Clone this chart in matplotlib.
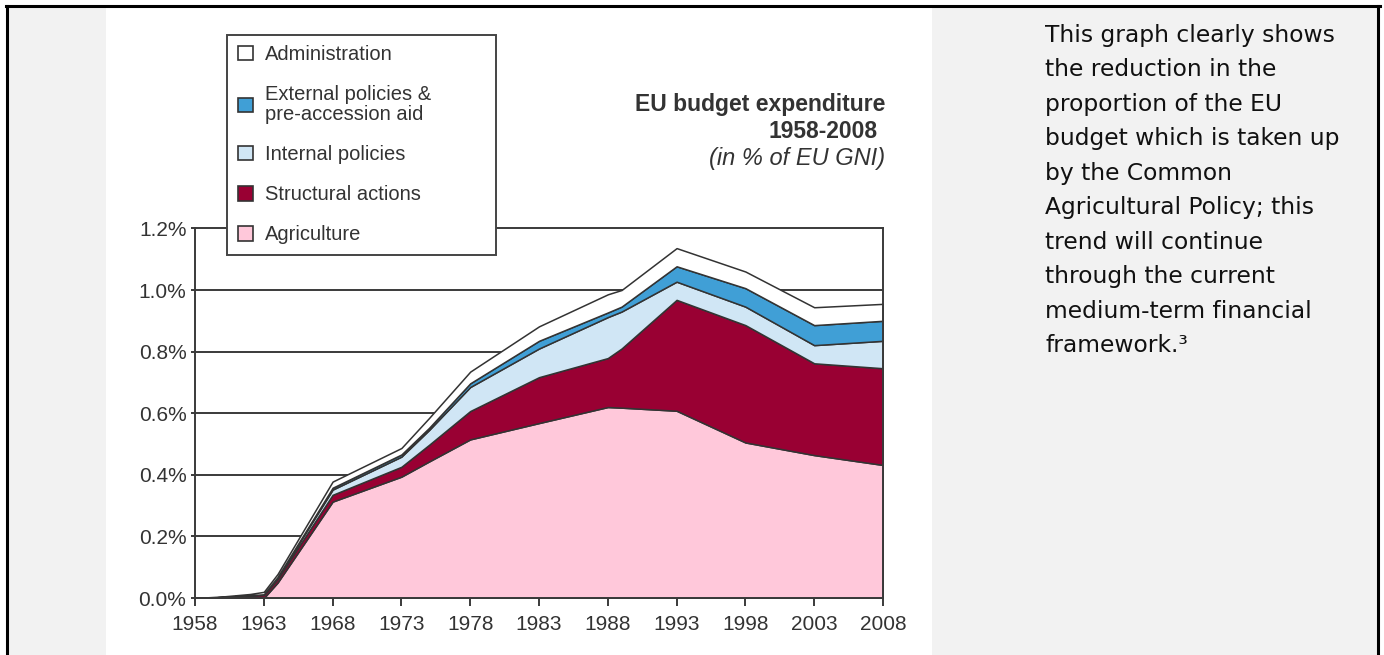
import matplotlib
matplotlib.use('Agg')
import matplotlib.pyplot as plt
from matplotlib.patches import Rectangle, Patch
from matplotlib.lines import Line2D

# DATA (in % of EU GNI, thickness of each layer)
#===============================================================================
years = [1958, 1960, 1962, 1963, 1964, 1968, 1973, 1975, 1978, 1983, 1988, 1989,
         1993, 1998, 2003, 2008]
agriculture = [0, 0, 0, 0, 0.05, 0.313, 0.394, 0.443, 0.515, 0.568, 0.620, 0.618,
               0.608, 0.505, 0.464, 0.432]
structural = [0, 0.003, 0.008, 0.010, 0.012, 0.022, 0.032, 0.054, 0.092, 0.149, 0.159,
              0.192, 0.360, 0.381, 0.298, 0.314]
internal = [0, 0, 0.001, 0.002, 0.005, 0.017, 0.033, 0.048, 0.078, 0.093, 0.133, 0.120,
            0.059, 0.060, 0.059, 0.089]
external = [0, 0, 0, 0, 0.001, 0.006, 0.007, 0.007, 0.012, 0.025, 0.015, 0.016,
            0.050, 0.060, 0.065, 0.065]
administration = [0, 0.002, 0.004, 0.008, 0.010, 0.020, 0.021, 0.032, 0.038, 0.047,
                  0.059, 0.054, 0.059, 0.054, 0.058, 0.055]

labels = ['Agriculture', 'Structural actions', 'Internal policies',
          'External policies &\npre-accession aid', 'Administration']
colors = ['#ffc8da', '#990033', '#d0e6f5', '#409fd6', '#ffffff']
x_ticks = list(range(1958, 2009, 5))
y_ticks = [0.0, 0.2, 0.4, 0.6, 0.8, 1.0, 1.2]

note_lines = ['This graph clearly shows', 'the reduction in the',
              'proportion of the EU', 'budget which is taken up',
              'by the Common', 'Agricultural Policy; this',
              'trend will continue', 'through the current',
              'medium-term financial', 'framework.\u00b3']
#===============================================================================

W, H = 1384, 655
def fx(px):
  return px / W
def fy(py):
  return 1 - py / H

fig = plt.figure(figsize=(W / 100, H / 100), dpi=100)
fig.patch.set_facecolor('white')

# page background: grey margins, white chart column
fig.patches.append(Rectangle((fx(7), 0), fx(106) - fx(7), fy(6), transform=fig.transFigure,
                             facecolor='#f2f2f2', edgecolor='none', zorder=0))
fig.patches.append(Rectangle((fx(932), 0), fx(1378) - fx(932), fy(6), transform=fig.transFigure,
                             facecolor='#f2f2f2', edgecolor='none', zorder=0))
for xs, ys in [([fx(6), fx(1380)], [fy(6), fy(6)]),
               ([fx(7), fx(7)], [0, fy(6)]),
               ([fx(1378), fx(1378)], [0, fy(6)])]:
  fig.lines.append(Line2D(xs, ys, transform=fig.transFigure, color='black', lw=2.2))

tick_font = 'Liberation Sans'
grey = '#3a3a3a'

ax = fig.add_axes([fx(195), fy(598), fx(883) - fx(195), fy(228.4) - fy(598)])
ax.set_facecolor('white')
for v in y_ticks[1:-1]:
  ax.axhline(v, color=grey, lw=1.4, zorder=0)
ax.stackplot(years, agriculture, structural, internal, external, administration,
             colors=colors, edgecolor='#333333', linewidth=1.1, zorder=2)
ax.set_xlim(1958, 2008)
ax.set_ylim(0, 1.2)
ax.set_xticks(x_ticks)
ax.set_xticklabels([str(t) for t in x_ticks], fontfamily=tick_font, fontsize=15, color='#333333')
ax.set_yticks(y_ticks)
ax.set_yticklabels(['{:.1f}%'.format(v) for v in y_ticks], fontfamily=tick_font, fontsize=15,
                   color='#333333')
ax.tick_params(axis='x', direction='out', length=6, width=1.4, color=grey, pad=6.5)
ax.tick_params(axis='y', direction='out', length=3.2, width=1.4, color=grey, pad=3)
for s in ax.spines.values():
  s.set_color(grey)
  s.set_linewidth(1.4)
  s.set_zorder(3)

# legend box drawn by hand so it can be as wide as the original
fig.patches.append(Rectangle((fx(227), fy(255)), fx(496) - fx(227), fy(35) - fy(255),
                             transform=fig.transFigure, facecolor='white',
                             edgecolor='#444444', linewidth=1.4, zorder=4))
handles = [Patch(facecolor=c, edgecolor='#333333', linewidth=1.2) for c in colors]
leg = fig.legend(handles[::-1], labels[::-1], loc='upper left',
                 bbox_to_anchor=(fx(227), fy(34)), borderaxespad=0,
                 prop={'family': tick_font, 'size': 14.5}, frameon=False,
                 handlelength=0.75, handleheight=0.75,
                 handletextpad=0.6, labelspacing=1.05, borderpad=0.55)
for t in leg.get_texts():
  t.set_color('#333333')
  t.set_linespacing(1.05)
leg.set_zorder(5)

# chart title
fig.text(fx(885), fy(105), 'EU budget expenditure', ha='right', va='center',
         fontfamily=tick_font, fontweight='bold', fontsize=16.5, color='#333333')
fig.text(fx(878), fy(132), '1958-2008', ha='right', va='center',
         fontfamily=tick_font, fontweight='bold', fontsize=16.5, color='#333333')
fig.text(fx(885), fy(158), '(in % of EU GNI)', ha='right', va='center',
         fontfamily=tick_font, fontstyle='italic', fontsize=17, color='#333333')

# side note
for i, line in enumerate(note_lines):
  fig.text(fx(1045), fy(41.7 + i * 34.5), line, ha='left', va='baseline',
           fontfamily='DejaVu Sans', fontsize=16.8, color='#111111')

plt.savefig('out.png', dpi=100)
